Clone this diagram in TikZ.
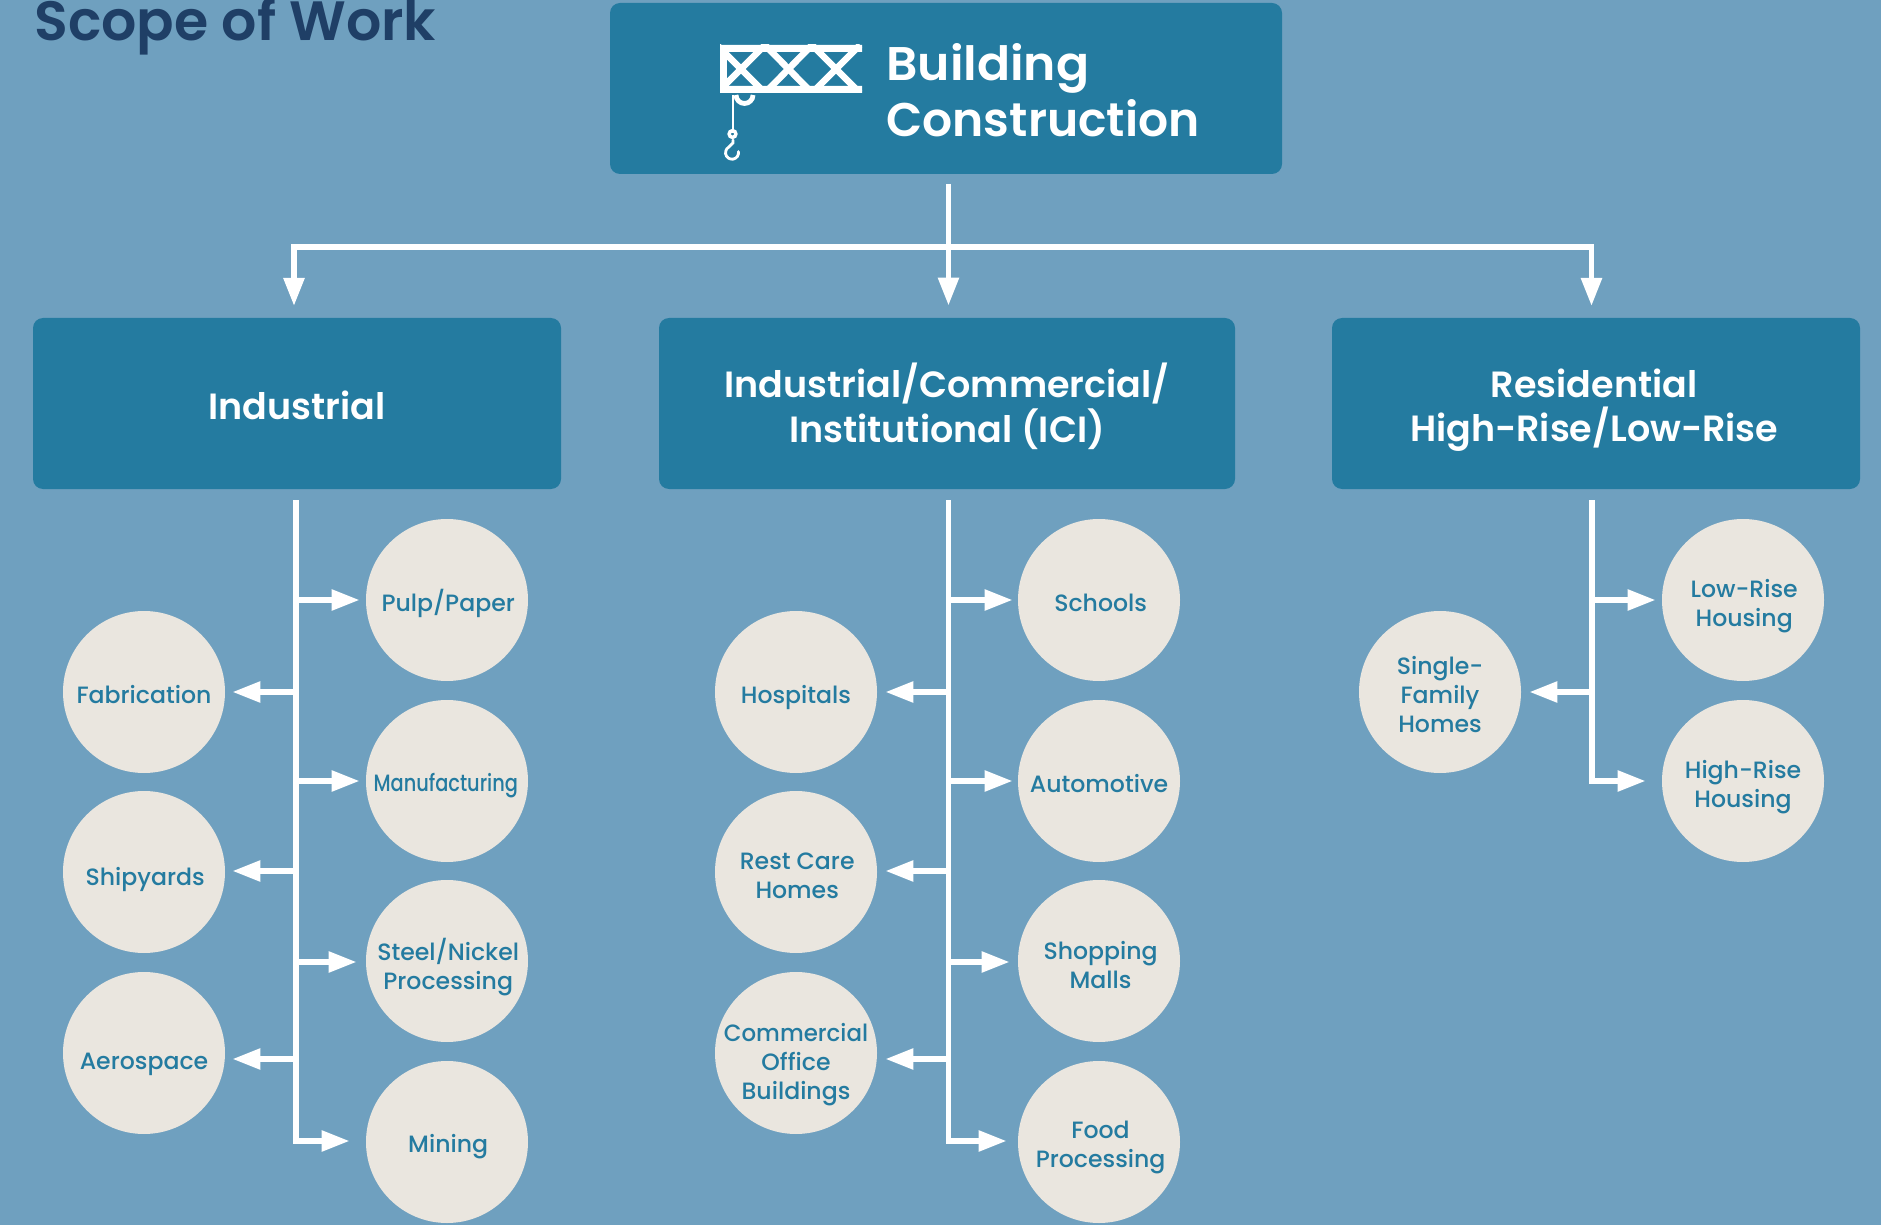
\documentclass[tikz,border=0pt]{standalone}
\usepackage{fontspec}
\setmainfont{Poppins}[BoldFont={Poppins SemiBold}]
\newfontfamily\medfont{Poppins Medium}
\usetikzlibrary{arrows.meta,calc}
\definecolor{bgblue}{HTML}{6FA0BF}
\definecolor{boxblue}{HTML}{247BA0}
\definecolor{cream}{HTML}{EAE6DF}
\definecolor{navy}{HTML}{1F3F66}
\tikzset{
  x=0.5pt,y=-0.5pt,
  catbox/.style={fill=boxblue,rounded corners=5pt,inner sep=0pt,text=white,align=center,
    font=\bfseries\fontsize{18.25}{22}\selectfont},
  disc/.style={circle,fill=cream,minimum size=81pt,inner sep=0pt,text=boxblue,align=center,
    font=\medfont\fontsize{11.8}{14.5}\selectfont},
  trunk/.style={white,line width=2.75pt,line cap=rect},
  branch/.style={white,line width=2.75pt,-{Triangle[length=14pt,width=10pt,fill=white]}},
  crane/.style={white,line join=miter},
}
% \branchto{trunk coordinate}{node anchor}{y}{gap}
\newcommand{\branchto}[4]{\draw[branch,shorten >=#4*0.5pt] (#1 |- 0,#3) -- (#2 |- 0,#3);}
% \dt{dx}{dy}{lines}: text block offset from the node centre, with uniform line boxes
\newcommand{\dt}[3]{\makebox[0pt]{\hspace*{#1pt}\hspace*{#1pt}\raisebox{\dimexpr-#2pt\relax}[0pt][0pt]{\begin{tabular}{@{}c@{}}#3\end{tabular}}}}
\begin{document}
\begin{tikzpicture}
\useasboundingbox (0,0) rectangle (1881,1225);
\fill[bgblue] (0,0) rectangle (1881,1225);

\begin{scope}
\clip (0,0) rectangle (1881,1225);
\node[anchor=base west,inner sep=0pt,text=navy,font=\bfseries\fontsize{27.7}{30}\selectfont] (title) at (34,41) {Scope of Work};
\end{scope}

% top box
\node[catbox,minimum width=336pt,minimum height=85.5pt] (root) at (946,88.5) {};
\node[anchor=base west,inner sep=0pt,text=white,font=\bfseries\fontsize{23.6}{28}\selectfont] (roota) at (886,81) {\scalebox{1.035}[1]{Building}};
\node[anchor=base west,inner sep=0pt,text=white,font=\bfseries\fontsize{23.6}{28}\selectfont] (rootb) at (886,137) {Construction};

% crane icon
\begin{scope}[crane]
\begin{scope}
\clip (720,45) rectangle (862,93);
\draw[line width=3.3pt] (717,45) -- (765,93) -- (812,45) -- (860,93);
\draw[line width=3.3pt] (717,93) -- (765,45) -- (812,93) -- (860,45);
\end{scope}
\fill (720,45) rectangle (862,52) (720,86) rectangle (862,93);
\fill (720,45) rectangle (727,93);
\draw[line width=1pt] (733,95) -- (733,133);
\draw[line width=2.4pt] (736,95) arc[start angle=180,end angle=0,radius=8.5];
\draw[line width=1.7pt] (732.5,134) circle[radius=3.4];
\draw[line width=1.4pt,line cap=round] (733,140) -- (733,143) -- (726.7,149) arc[start angle=215,end angle=-10,radius=6.5];
\end{scope}

% categories
\node[catbox,minimum width=264pt,minimum height=85.5pt] (ind) at (297,403.5) {\dt{0}{7.8}{Industrial}};
\node[catbox,minimum width=288pt,minimum height=85.5pt] (ici) at (947,403.5) {\dt{0}{7.2}{Industrial/Commercial/\\[-1.2pt]Institutional (ICI)}};
\node[catbox,minimum width=264pt,minimum height=85.5pt] (res) at (1596,403.5) {\dt{-0.9}{8.1}{Residential\\[-1.8pt]High-Rise/Low-Rise}};

% top connectors
\coordinate (rootfoot) at (948.5,184);
\coordinate (hub) at (948.5,247);
\draw[trunk] (294,247) -- (1591.5,247);
\draw[branch,shorten >=12*0.5pt] (rootfoot) -- (hub |- ici.north);
\draw[branch,shorten >=12*0.5pt] (294,247) -- (294,318);
\draw[branch,shorten >=12*0.5pt] (1591.5,247) -- (1591.5,318);

% discs: industrial
\node[disc] (pulp) at (447,600) {\dt{0.6}{5.4}{Pulp/Paper}};
\node[disc] (fab) at (144,692) {\dt{0}{6}{Fabrication}};
\node[disc] (manu) at (447,781) {\dt{-0.6}{5.4}{\scalebox{.82}[1]{Manufacturing}}};
\node[disc] (ship) at (144,872) {\dt{0.6}{6.6}{Shipyards}};
\node[disc] (steel) at (447,961) {\dt{0.6}{6.6}{Steel/Nickel\\Processing}};
\node[disc] (aero) at (144,1053) {\dt{0}{8.4}{Aerospace}};
\node[disc] (mine) at (447,1142) {\dt{0.6}{5.4}{Mining}};
% discs: ICI
\node[disc] (school) at (1099,600) {\dt{0.8}{6}{Schools}};
\node[disc] (hosp) at (796,692) {\dt{0}{6}{Hospitals}};
\node[disc] (auto) at (1099,781) {\dt{0}{6}{Automotive}};
\node[disc] (rest) at (796,872) {\dt{0.6}{6}{Rest Care\\Homes}};
\node[disc] (mall) at (1099,961) {\dt{0.8}{6.6}{Shopping\\Malls}};
\node[disc] (office) at (796,1053) {\dt{0}{9}{\scalebox{.97}[1]{Commercial}\\Office\\Buildings}};
\node[disc] (food) at (1099,1142) {\dt{0.8}{5.4}{Food\\Processing}};
% discs: residential
\node[disc] (low) at (1743,600) {\dt{0.6}{6.3}{Low-Rise\\Housing}};
\node[disc] (single) at (1440,692) {\dt{0}{6}{Single-\\Family\\Homes}};
\node[disc] (high) at (1743,781) {\dt{0}{6}{High-Rise\\Housing}};

% trunks
\coordinate (ti) at (296,503);
\coordinate (tc) at (948.5,503);
\coordinate (tr) at (1592,503);
\draw[trunk] (ti) -- (ti |- 0,1141);
\draw[trunk] (tc) -- (tc |- 0,1141);
\draw[trunk] (tr) -- (tr |- 0,781);

% branches industrial
\branchto{ti}{pulp.west}{600}{6}
\branchto{ti}{fab.east}{692}{7}
\branchto{ti}{manu.west}{781}{6}
\branchto{ti}{ship.east}{871}{7}
\branchto{ti}{steel.west}{962}{9}
\branchto{ti}{aero.east}{1059}{7}
\branchto{ti}{mine.west}{1141}{16}
% branches ICI
\branchto{tc}{school.west}{600}{5}
\branchto{tc}{hosp.east}{692}{8}
\branchto{tc}{auto.west}{781}{5}
\branchto{tc}{rest.east}{871}{8}
\branchto{tc}{mall.west}{962}{8}
\branchto{tc}{office.east}{1059}{8}
\branchto{tc}{food.west}{1141}{11}
% branches residential
\branchto{tr}{low.west}{600}{6}
\branchto{tr}{single.east}{692}{8}
\branchto{tr}{high.west}{781}{16}
\end{tikzpicture}
\end{document}
